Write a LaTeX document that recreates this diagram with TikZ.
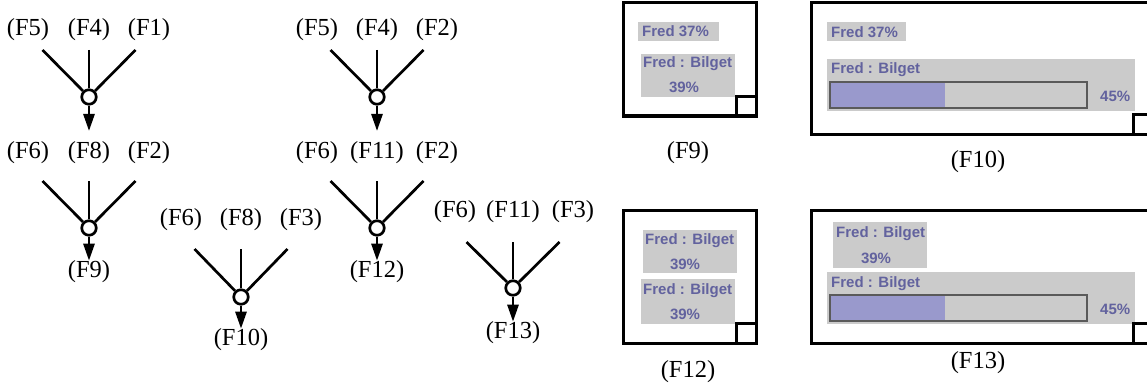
\documentclass[tikz,border=0pt]{standalone}
\usepackage{fontspec}
\setmainfont{Liberation Serif}
\newfontfamily\uifont{Liberation Sans}
\usetikzlibrary{arrows.meta}
\definecolor{uigrey}{RGB}{203,203,203}
\definecolor{uiblue}{RGB}{98,98,158}
\definecolor{uibar}{RGB}{153,153,204}
\definecolor{uiedge}{RGB}{90,90,90}
% #1 id, #2 centre x, #3 label y, #4 stem top y, #5 junction y, #6 #7 #8 labels, #9 left label x offset
\newcommand{\ftree}[9]{%
  \node[lab] (#1L) at (#2-#9,#3) {#6};
  \node[lab] (#1M) at (#2,#3) {#7};
  \node[lab] (#1R) at (#2+60,#3) {#8};
  \node[junc] (#1j) at (#2,#5) {};
  \coordinate (#1l) at (#2-46.5,#4);
  \coordinate (#1m) at (#2,#4);
  \coordinate (#1r) at (#2+46.5,#4);
  \draw[stem] (#1l) -- (#1j);
  \draw[stem] (#1m) -- (#1j);
  \draw[stem] (#1r) -- (#1j);
}
\begin{document}
\begin{tikzpicture}[x=1pt,y=-1pt,
  lab/.style={font=\fontsize{24.5}{28}\selectfont, inner sep=0pt},
  junc/.style={circle, draw, line width=2.7pt, minimum size=14.5pt, inner sep=0pt, fill=white},
  stem/.style={line width=2.7pt},
  flow/.style={line width=2.7pt, -{Triangle[length=17pt,width=11pt]}},
  frame/.style={draw, line width=3pt},
  ui/.style={font=\uifont\bfseries\fontsize{15}{18}\selectfont, text=uiblue, inner sep=0pt},
  panel/.style={fill=uigrey},
  barline/.style={draw=uiedge, line width=1.3pt},
]
\useasboundingbox (0,0) rectangle (1147,385);
\clip (0,0) rectangle (1147,385);

% ---------- trees ----------
\ftree{ta}{89}{30}{50}{97}{(F5)}{(F4)}{(F1)}{61}
\coordinate (taTip) at (89,131);
\draw[flow] (taj) -- (taTip);

\ftree{tb}{89}{153}{181}{228}{(F6)}{(F8)}{(F2)}{61}
\node[lab] (tbOut) at (89,272) {(F9)};
\draw[flow] (tbj) -- (tbOut);

\ftree{tc}{377}{30}{50}{97}{(F5)}{(F4)}{(F2)}{60}
\coordinate (tcTip) at (377,131);
\draw[flow] (tcj) -- (tcTip);

\ftree{td}{377}{153}{181}{228}{(F6)}{(F11)}{(F2)}{60}
\node[lab] (tdOut) at (377,272) {(F12)};
\draw[flow] (tdj) -- (tdOut);

\ftree{te}{241}{220}{249}{297}{(F6)}{(F8)}{(F3)}{60}
\node[lab] (teOut) at (241,340) {(F10)};
\draw[flow] (tej) -- (teOut);

\ftree{tf}{513}{212}{242}{288}{(F6)}{(F11)}{(F3)}{58}
\node[lab] (tfOut) at (513,333) {(F13)};
\draw[flow] (tfj) -- (tfOut);

% ---------- F9 ----------
\fill[panel] (638,22) rectangle (719,41);
\node[ui, anchor=base west] (f9a) at (642,37) {Fred 37\%};
\fill[panel] (641,54) rectangle (735,97);
\node[ui, anchor=base west] (f9b) at (643,68) {Fred : Bilget};
\node[ui, anchor=base] (f9c) at (684,93) {39\%};
\draw[frame] (623,3) rectangle (756,116);
\draw[frame] (736,97) rectangle (756,116);
\node[lab] (cap9) at (688,153) {(F9)};

% ---------- F10 ----------
\fill[panel] (827,22) rectangle (906,41);
\node[ui, anchor=base west] (f10a) at (831,38) {Fred 37\%};
\fill[panel] (827,59) rectangle (1135,111);
\node[ui, anchor=base west] (f10b) at (831,74) {Fred : Bilget};
\fill[uibar] (830,82) rectangle (945,108);
\draw[barline] (830,82) rectangle (1087,108);
\node[ui, anchor=base west] (f10c) at (1100,102) {45\%};
\draw[frame] (811,3) rectangle (1157,134);
\draw[frame] (1133,115) rectangle (1157,134);
\node[lab] (cap10) at (978,162) {(F10)};

% ---------- F12 ----------
\fill[panel] (643,230) rectangle (737,273);
\node[ui, anchor=base west] (f12a) at (645,244) {Fred : Bilget};
\node[ui, anchor=base] (f12b) at (685,269) {39\%};
\fill[panel] (641,279) rectangle (735,324);
\node[ui, anchor=base west] (f12c) at (643,294) {Fred : Bilget};
\node[ui, anchor=base] (f12d) at (685,319) {39\%};
\draw[frame] (623,210) rectangle (756,343);
\draw[frame] (736,323) rectangle (756,343);
\node[lab] (cap12) at (688,372) {(F12)};

% ---------- F13 ----------
\fill[panel] (833,222) rectangle (927,268);
\node[ui, anchor=base west] (f13a) at (836,237) {Fred : Bilget};
\node[ui, anchor=base] (f13b) at (876,263) {39\%};
\fill[panel] (827,272) rectangle (1135,324);
\node[ui, anchor=base west] (f13c) at (831,287) {Fred : Bilget};
\fill[uibar] (830,295) rectangle (945,321);
\draw[barline] (830,295) rectangle (1087,321);
\node[ui, anchor=base west] (f13d) at (1100,314) {45\%};
\draw[frame] (811,210) rectangle (1157,343);
\draw[frame] (1133,323) rectangle (1157,343);
\node[lab] (cap13) at (978,363) {(F13)};
\end{tikzpicture}
\end{document}
